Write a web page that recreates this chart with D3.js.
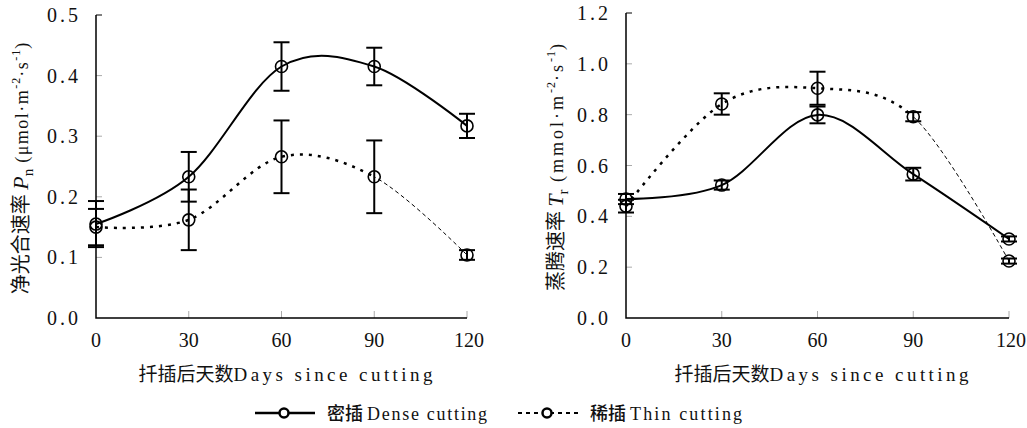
<!DOCTYPE html>
<html>
<head>
<meta charset="utf-8">
<script src="https://cdn.jsdelivr.net/npm/d3@7"></script>
<style>
  html, body { margin: 0; padding: 0; background: #fff; }
  svg { display: block; }
</style>
</head>
<body>
<div id="chart"></div>
<script>
// days after cutting
const days = [0, 30, 60, 90, 120];
const xTicks = [0, 30, 60, 90, 120];

// net photosynthetic rate Pn
const pnDense = [0.155, 0.233, 0.415, 0.415, 0.317];
const pnDenseErr = [0.038, 0.041, 0.040, 0.031, 0.020];
const pnThin = [0.150, 0.162, 0.266, 0.233, 0.104];
const pnThinErr = [0.030, 0.050, 0.060, 0.060, 0.008];
const pnTicks = [0.0, 0.1, 0.2, 0.3, 0.4, 0.5];

// transpiration rate Tr
const trDense = [0.468, 0.523, 0.799, 0.566, 0.311];
const trDenseErr = [0.020, 0.018, 0.033, 0.025, 0.010];
const trThin = [0.440, 0.842, 0.904, 0.792, 0.224];
const trThinErr = [0.025, 0.042, 0.065, 0.018, 0.010];
const trTicks = [0.0, 0.2, 0.4, 0.6, 0.8, 1.0, 1.2];

const W = 1027, H = 428;
const serifFont = "'Liberation Serif', 'DejaVu Serif', serif";
const cjkFont = "'Noto Sans CJK SC', sans-serif";

const svg = d3.select("#chart").append("svg")
  .attr("width", W)
  .attr("height", H)
  .attr("viewBox", [0, 0, W, H]);

const defs = svg.append("defs");

function drawPanel(opts) {
  const x = d3.scaleLinear().domain([0, 120]).range(opts.xRange);
  const y = d3.scaleLinear().domain([0, opts.yMax]).range(opts.yRange);
  const g = svg.append("g");

  // inside ticks, light grey
  g.selectAll("line.ytick")
    .data(opts.yTicks.slice(1))
    .join("line")
    .attr("x1", x(0)).attr("x2", x(0) + 6)
    .attr("y1", function(d) { return y(d); })
    .attr("y2", function(d) { return y(d); })
    .attr("stroke", function(d) { return d === opts.yMax ? "#000" : "#aaa"; })
    .attr("stroke-width", 1);

  g.selectAll("line.xtick")
    .data(xTicks.slice(1))
    .join("line")
    .attr("x1", function(d) { return x(d); })
    .attr("x2", function(d) { return x(d); })
    .attr("y1", y(0)).attr("y2", y(0) - 7)
    .attr("stroke", "#aaa")
    .attr("stroke-width", 1);

  // axis lines
  g.append("path")
    .attr("d", "M" + x(0) + "," + y(opts.yMax) + "V" + y(0) + "H" + x(120))
    .attr("fill", "none")
    .attr("stroke", "#000")
    .attr("stroke-width", 1.5);

  g.selectAll("text.ylab")
    .data(opts.yTicks)
    .join("text")
    .attr("x", x(0) - 15)
    .attr("y", function(d) { return y(d) + 7; })
    .attr("text-anchor", "end")
    .attr("font-family", serifFont)
    .attr("font-size", 20)
    .attr("letter-spacing", 3)
    .attr("fill", "#111")
    .text(function(d) { return d.toFixed(1); });

  g.selectAll("text.xlab")
    .data(xTicks)
    .join("text")
    .attr("x", function(d) { return x(d) + (d === 120 ? 2 : 0); })
    .attr("y", y(0) + 29)
    .attr("text-anchor", "middle")
    .attr("font-family", serifFont)
    .attr("font-size", 20)
    .attr("fill", "#111")
    .text(function(d) { return d; });

  // x title
  const xt = g.append("text")
    .attr("x", (x(0) + x(120)) / 2 + 4)
    .attr("y", y(0) + 63)
    .attr("text-anchor", "middle")
    .attr("fill", "#111");
  xt.append("tspan").attr("font-family", cjkFont).attr("font-size", 19).text("扦插后天数");
  xt.append("tspan").attr("font-family", serifFont).attr("font-size", 19)
    .attr("textLength", 199).attr("lengthAdjust", "spacing").text("Days since cutting");

  // y title
  const yt = g.append("text")
    .attr("transform", "translate(" + opts.yTitleX + "," + ((y(0) + y(opts.yMax)) / 2 + 2) + ") rotate(-90)")
    .attr("text-anchor", "middle")
    .attr("fill", "#111");
  yt.append("tspan").attr("font-family", cjkFont).attr("font-size", 20).text(opts.yName + " ");
  yt.append("tspan").attr("font-family", serifFont).attr("font-style", "italic").attr("font-size", 22).text(opts.sym);
  yt.append("tspan").attr("font-family", serifFont).attr("font-size", 15).attr("dy", 5).text(opts.sub);
  const unitSpan = function(txt, size, dy, ls) {
    yt.append("tspan").attr("font-family", serifFont).attr("font-size", size)
      .attr("letter-spacing", ls).attr("dy", dy).text(txt);
  };
  unitSpan(" (" + opts.unit + "·m", 18, -5, opts.ls);
  unitSpan("-2", 12, -8, 1);
  unitSpan("·s", 18, 8, opts.ls);
  unitSpan("-1", 12, -8, 1);
  unitSpan(")", 18, 8, 0);

  const line = d3.line()
    .x(function(d) { return x(d[0]); })
    .y(function(d) { return y(d[1]); })
    .curve(d3.curveCardinal.tension(0));

  const denseData = d3.zip(days, opts.dense);
  const thinData = d3.zip(days, opts.thin);

  // thin series: dotted up to day 90, fine dashes after
  const clipA = "clipA" + opts.id, clipB = "clipB" + opts.id;
  defs.append("clipPath").attr("id", clipA).append("rect")
    .attr("x", 0).attr("y", 0).attr("width", x(90)).attr("height", H);
  defs.append("clipPath").attr("id", clipB).append("rect")
    .attr("x", x(90)).attr("y", 0).attr("width", W - x(90)).attr("height", H);

  g.append("path")
    .attr("d", line(thinData))
    .attr("clip-path", "url(#" + clipA + ")")
    .attr("fill", "none")
    .attr("stroke", "#000")
    .attr("stroke-width", 2.5)
    .attr("stroke-dasharray", "3,6");

  g.append("path")
    .attr("d", line(thinData))
    .attr("clip-path", "url(#" + clipB + ")")
    .attr("fill", "none")
    .attr("stroke", "#000")
    .attr("stroke-width", 1)
    .attr("stroke-dasharray", "4,3");

  g.append("path")
    .attr("d", line(denseData))
    .attr("fill", "none")
    .attr("stroke", "#000")
    .attr("stroke-width", 2);

  // error bars and markers
  [[opts.dense, opts.denseErr], [opts.thin, opts.thinErr]].forEach(function(s) {
    const pts = days.map(function(d, i) { return { d: d, v: s[0][i], e: s[1][i] }; });
    const eb = g.append("g").attr("stroke", "#000").attr("stroke-width", 2);
    eb.selectAll("line.v").data(pts).join("line")
      .attr("x1", function(p) { return x(p.d); }).attr("x2", function(p) { return x(p.d); })
      .attr("y1", function(p) { return y(p.v + p.e); }).attr("y2", function(p) { return y(p.v - p.e); });
    eb.selectAll("line.t").data(pts).join("line")
      .attr("x1", function(p) { return x(p.d) - 8; }).attr("x2", function(p) { return x(p.d) + 8; })
      .attr("y1", function(p) { return y(p.v + p.e); }).attr("y2", function(p) { return y(p.v + p.e); });
    eb.selectAll("line.b").data(pts).join("line")
      .attr("x1", function(p) { return x(p.d) - 8; }).attr("x2", function(p) { return x(p.d) + 8; })
      .attr("y1", function(p) { return y(p.v - p.e); }).attr("y2", function(p) { return y(p.v - p.e); });
    g.selectAll(null).data(pts).join("circle")
      .attr("cx", function(p) { return x(p.d); })
      .attr("cy", function(p) { return y(p.v); })
      .attr("r", 6)
      .attr("fill", "none")
      .attr("stroke", "#000")
      .attr("stroke-width", 1.6);
  });
}

drawPanel({
  id: "pn", xRange: [96, 467], yRange: [318, 15], yMax: 0.5, yTicks: pnTicks,
  dense: pnDense, denseErr: pnDenseErr, thin: pnThin, thinErr: pnThinErr,
  yTitleX: 28, yName: "净光合速率", sym: "P", sub: "n", unit: "μmol", ls: 1.5
});

drawPanel({
  id: "tr", xRange: [626, 1009], yRange: [318, 13], yMax: 1.2, yTicks: trTicks,
  dense: trDense, denseErr: trDenseErr, thin: trThin, thinErr: trThinErr,
  yTitleX: 563, yName: "蒸腾速率", sym: "T", sub: "r", unit: "mmol", ls: 3
});

// legend
const legendItems = [
  { label: "Dense cutting", cn: "密插", dash: null, x: 255, len: 120 },
  { label: "Thin cutting", cn: "稀插", dash: "4,4", x: 518, len: 112 }
];
const lg = svg.append("g").attr("transform", "translate(0,413)");
legendItems.forEach(function(it) {
  lg.append("line")
    .attr("x1", it.x).attr("x2", it.x + 60)
    .attr("stroke", "#000")
    .attr("stroke-width", it.dash ? 2 : 2.5)
    .attr("stroke-dasharray", it.dash);
  lg.append("circle")
    .attr("cx", it.x + 29).attr("r", 4.5)
    .attr("fill", "#fff").attr("stroke", "#000").attr("stroke-width", 2.5);
  const t = lg.append("text").attr("x", it.x + 72).attr("y", 7).attr("fill", "#111");
  t.append("tspan").attr("font-family", cjkFont).attr("font-size", 18).attr("font-weight", 500).text(it.cn + " ");
  t.append("tspan").attr("font-family", serifFont).attr("font-size", 18)
    .attr("textLength", it.len).attr("lengthAdjust", "spacing").text(it.label);
});
</script>
</body>
</html>
